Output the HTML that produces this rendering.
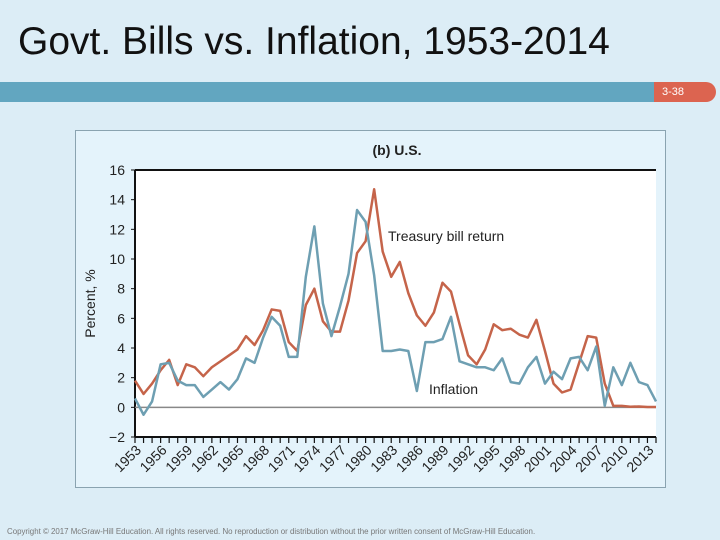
<!DOCTYPE html>
<html><head><meta charset="utf-8"><style>
body{margin:0;width:720px;height:540px;background:#dcedf6;position:relative;overflow:hidden;font-family:"Liberation Sans",sans-serif}
#title{position:absolute;left:18px;top:20px;font-size:39px;color:#111;white-space:nowrap}
#bar{position:absolute;left:0;top:82px;width:654px;height:20px;background:#62a6c0}
#badge{position:absolute;left:654px;top:82px;width:62px;height:20px;background:#dc6450;border-radius:0 10px 10px 0;color:#fff;font-size:11px;line-height:20px;padding-left:8px;box-sizing:border-box}
#foot{position:absolute;left:7px;top:527px;font-size:7.9px;color:#777;white-space:nowrap}
svg{position:absolute;left:0;top:0}
</style></head><body>
<div id="title">Govt. Bills vs. Inflation, 1953-2014</div>
<div id="bar"></div>
<div id="badge">3-38</div>
<svg id="chart" width="720" height="540"></svg>
<div id="foot">Copyright © 2017 McGraw-Hill Education. All rights reserved. No reproduction or distribution without the prior written consent of McGraw-Hill Education.</div>
<script>
const years=[];for(let y=1953;y<=2014;y++)years.push(y);
const tbill=[1.8,0.9,1.6,2.5,3.2,1.5,2.9,2.7,2.1,2.7,3.1,3.5,3.9,4.8,4.2,5.2,6.6,6.5,4.4,3.8,6.9,8.0,5.8,5.1,5.1,7.2,10.4,11.2,14.7,10.5,8.8,9.8,7.7,6.2,5.5,6.4,8.4,7.8,5.6,3.5,2.9,3.9,5.6,5.2,5.3,4.9,4.7,5.9,3.8,1.6,1.0,1.2,3.0,4.8,4.7,1.6,0.1,0.1,0.04,0.06,0.02,0.02];
const inflation=[0.6,-0.5,0.4,2.9,3.0,1.8,1.5,1.5,0.7,1.2,1.7,1.2,1.9,3.3,3.0,4.7,6.1,5.5,3.4,3.4,8.8,12.2,7.0,4.8,6.8,9.0,13.3,12.5,8.9,3.8,3.8,3.9,3.8,1.1,4.4,4.4,4.6,6.1,3.1,2.9,2.7,2.7,2.5,3.3,1.7,1.6,2.7,3.4,1.6,2.4,1.9,3.3,3.4,2.5,4.1,0.1,2.7,1.5,3.0,1.7,1.5,0.4];
const yTicks=[16,14,12,10,8,6,4,2,0,-2];
const xLabels=[1953,1956,1959,1962,1965,1968,1971,1974,1977,1980,1983,1986,1989,1992,1995,1998,2001,2004,2007,2010,2013];
const L=135,R=656,T=170,B=437;
const X=y=>L+(y-1953)*(R-L)/61;
const Y=v=>T+(16-v)*(B-T)/18;
const s=document.getElementById('chart');const NS='http://www.w3.org/2000/svg';
function mk(tag,a,name,p){const e=document.createElementNS(NS,tag);for(const k in a)e.setAttribute(k,a[k]);


(p||s).appendChild(e);return e;}
mk('rect',{x:75.5,y:130.5,width:590,height:357,fill:'#e4f3fb',stroke:'#8aa3b0','stroke-width':1},'chart-frame');
mk('rect',{x:L,y:T,width:R-L,height:B-T,fill:'#fff'},'plot-area');
mk('text',{x:397,y:155,'font-size':14,'font-weight':'bold','text-anchor':'middle',fill:'#222'},'chart-subtitle').textContent='(b) U.S.';
mk('line',{x1:L,y1:T,x2:R,y2:T,stroke:'#111','stroke-width':2},'top-border');
mk('line',{x1:L,y1:B,x2:R,y2:B,stroke:'#111','stroke-width':2},'x-axis');
mk('line',{x1:L,y1:T,x2:L,y2:B,stroke:'#111','stroke-width':2},'y-axis');
mk('line',{x1:L,y1:Y(0),x2:R,y2:Y(0),stroke:'#888','stroke-width':1.5},'zero-line');
yTicks.forEach(v=>{mk('line',{x1:L-4,y1:Y(v),x2:L,y2:Y(v),stroke:'#111'},'y-tick');
const t=mk('text',{x:L-10,y:Y(v)+5,'font-size':14,'text-anchor':'end',fill:'#222'},'y-tick-label');t.textContent=v<0?'\u2212'+(-v):v;});
years.forEach(y=>mk('line',{x1:X(y),y1:B,x2:X(y),y2:B+6,stroke:'#111','stroke-width':1.2},'x-tick'));
xLabels.forEach(y=>{const t=mk('text',{x:X(y)+7,y:B+14,'font-size':14,'text-anchor':'end',fill:'#222',transform:`rotate(-45 ${X(y)+7} ${B+14})`},'x-tick-label');t.textContent=y;});
const yl=mk('text',{x:95,y:Y(7),'font-size':14,'text-anchor':'middle',fill:'#222',transform:`rotate(-90 95 ${Y(7)})`},'y-axis-title');yl.textContent='Percent, %';
function line(d,c,n){mk('polyline',{points:d.map((v,i)=>X(years[i])+','+Y(v)).join(' '),fill:'none',stroke:c,'stroke-width':2.5,'stroke-linejoin':'round'},n);}
line(tbill,'#c5644a','tbill-line');
line(inflation,'#6e9fb2','inflation-line');
mk('text',{x:388,y:241,'font-size':14,fill:'#222'},'tbill-label').textContent='Treasury bill return';
mk('text',{x:429,y:394,'font-size':14,fill:'#222'},'inflation-label').textContent='Inflation';
</script>
</body></html>
